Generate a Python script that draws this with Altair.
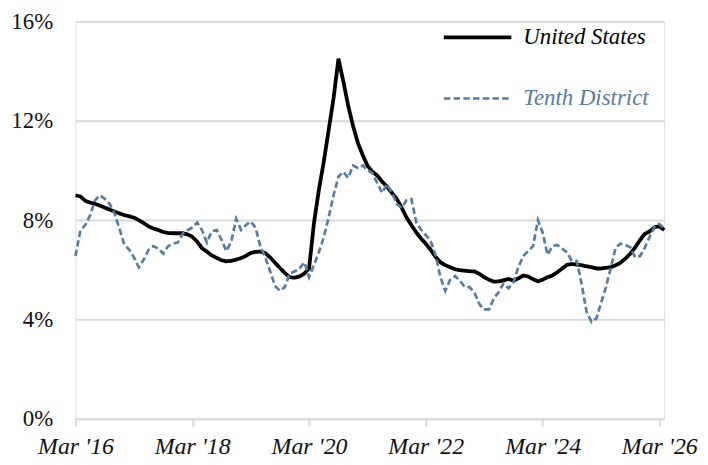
import altair as alt
import pandas as pd

# Monthly observations, Mar 2016 onward
months = pd.date_range("2016-03-01", periods=122, freq="MS").strftime("%Y-%m-%d").tolist()

united_states = [
    9.0, 8.95, 8.78, 8.7, 8.66, 8.58, 8.5, 8.42, 8.34, 8.27, 8.2, 8.15,
    8.1, 8.0, 7.88, 7.75, 7.66, 7.6, 7.52, 7.48, 7.47, 7.47, 7.47, 7.42,
    7.33, 7.13, 6.87, 6.73, 6.58, 6.48, 6.38, 6.34, 6.36, 6.41, 6.47, 6.56,
    6.67, 6.72, 6.73, 6.67, 6.5, 6.28, 6.07, 5.87, 5.7, 5.68, 5.73, 5.85,
    6.05, 7.9, 9.2, 10.35, 11.6, 12.9, 14.5, 13.6, 12.6, 11.8, 11.1, 10.6,
    10.2, 9.95, 9.8, 9.55, 9.35, 9.1, 8.85, 8.5, 8.1, 7.8, 7.5, 7.25,
    7.05, 6.8, 6.52, 6.3, 6.18, 6.1, 6.02, 5.98, 5.96, 5.94, 5.93, 5.83,
    5.7, 5.6, 5.52, 5.53, 5.58, 5.63, 5.56, 5.65, 5.77, 5.73, 5.62, 5.53,
    5.6, 5.7, 5.77, 5.9, 6.05, 6.2, 6.23, 6.21, 6.18, 6.14, 6.1, 6.05,
    6.05, 6.08, 6.1, 6.18, 6.28, 6.45, 6.65, 6.9, 7.2, 7.45, 7.55, 7.72,
    7.75, 7.6,
]

tenth_district = [
    6.55, 7.6, 7.8, 8.2, 8.8, 9.0, 8.85, 8.65, 8.25, 7.65, 7.0, 6.8,
    6.5, 6.1, 6.4, 6.8, 6.95, 6.85, 6.65, 6.95, 7.05, 7.1, 7.45, 7.6,
    7.7, 7.9, 7.6, 7.1, 7.55, 7.6, 7.2, 6.75, 7.15, 8.05, 7.6, 7.8,
    7.95, 7.7, 6.95, 6.5, 5.95, 5.35, 5.15, 5.3, 5.85, 5.93, 6.05, 6.3,
    5.7, 6.2, 6.7, 7.3, 8.1, 9.0, 9.75, 9.95, 9.7, 10.2, 10.1, 10.2,
    10.0, 9.9, 9.5, 9.1, 9.45, 9.1, 8.65, 8.5, 8.8, 8.85, 7.9, 7.6,
    7.4, 7.15, 6.6, 5.7, 5.15, 5.6, 5.75, 5.55, 5.3, 5.3, 5.05, 4.6,
    4.4, 4.4, 4.85, 5.1, 5.45, 5.25, 5.5, 6.1, 6.55, 6.75, 6.95, 8.0,
    7.5, 6.6, 6.95, 7.0, 6.85, 6.7, 6.35, 6.35, 5.4, 4.3, 3.9, 4.05,
    4.65, 5.3, 6.05, 6.9, 7.05, 7.0, 6.9, 6.5, 6.55, 6.9, 7.35, 7.75,
    7.85, 7.65,
]

series_names = ["United States", "Tenth District"]
series_colors = ["#000000", "#587ca0"]
tick_years = [2016, 2018, 2020, 2022, 2024, 2026]
y_ticks = [0, 4, 8, 12, 16]

n = len(months)
df = pd.DataFrame({
    "date": months * 2,
    "value": united_states + tenth_district,
    "series": [series_names[0]] * n + [series_names[1]] * n,
})

FONT = "Liberation Serif, Times New Roman, Times, serif"
GRID = "#d9d9d9"

x_axis = alt.Axis(
    values=[alt.DateTime(year=y, month=3, date=1, utc=True) for y in tick_years],
    labelExpr="utcFormat(datum.value, \"%b '%y\")",
    title=None,
    grid=False,
    domainColor=GRID,
    domainWidth=2,
    tickColor=GRID,
    tickWidth=2,
    tickSize=8,
    labelFont=FONT,
    labelFontStyle="italic",
    labelFontSize=24,
    labelColor="#111111",
    labelPadding=8,
    labelFlush=False,
    labelOverlap=False,
)

y_axis = alt.Axis(
    values=y_ticks,
    labelExpr="datum.value + '%'",
    title=None,
    ticks=False,
    domain=False,
    gridColor=GRID,
    gridWidth=2,
    labelFont=FONT,
    labelFontSize=23,
    labelColor="#111111",
    labelPadding=23,
)

legend = alt.Legend(
    title=None,
    orient="none",
    legendX=369,
    legendY=-20,
    symbolType="stroke",
    symbolSize=4624,
    labelFont=FONT,
    labelFontStyle="italic",
    labelFontSize=23,
    labelOffset=10,
    rowPadding=14,
    labelColor=alt.ExprRef("datum.label == 'Tenth District' ? '#587ca0' : '#000000'"),
)

chart = alt.Chart(df).mark_line(strokeCap="butt").encode(
    x=alt.X(
        "date:T",
        scale=alt.Scale(
            type="utc",
            domain=[alt.DateTime(year=2016, month=3, date=1, utc=True),
                    alt.DateTime(year=2026, month=4, date=1, utc=True)],
        ),
        axis=x_axis,
    ),
    y=alt.Y("value:Q", scale=alt.Scale(domain=[0, 16]), axis=y_axis),
    color=alt.Color("series:N", scale=alt.Scale(domain=series_names, range=series_colors), legend=legend),
    strokeDash=alt.StrokeDash("series:N", scale=alt.Scale(domain=series_names, range=[[1, 0], [6.5, 3.3]])),
    strokeWidth=alt.StrokeWidth("series:N", scale=alt.Scale(domain=series_names, range=[3.8, 2.7])),
    order=alt.Order("date:T"),
).properties(
    width=593,
    height=400,
    autosize=alt.AutoSizeParams(type="none"),
    padding={"left": 68, "top": 12, "right": 36, "bottom": 40},
).configure_view(stroke=None).configure(background="white")

chart.save("out.html", embed_options={"renderer": "svg", "actions": False})
